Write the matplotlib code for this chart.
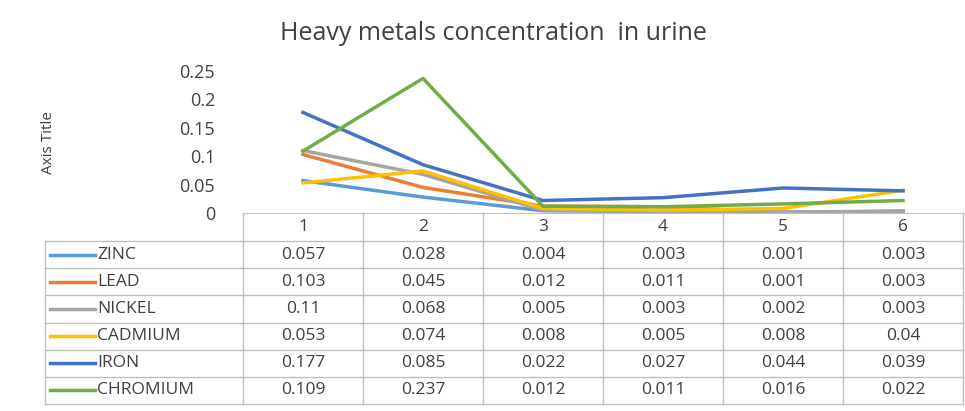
import matplotlib
matplotlib.use("Agg")
import matplotlib.pyplot as plt

categories = [1, 2, 3, 4, 5, 6]
series_names = ["ZINC", "LEAD", "NICKEL", "CADMIUM", "IRON", "CHROMIUM"]
zinc = [0.057, 0.028, 0.004, 0.003, 0.001, 0.003]
lead = [0.103, 0.045, 0.012, 0.011, 0.001, 0.003]
nickel = [0.11, 0.068, 0.005, 0.003, 0.002, 0.003]
cadmium = [0.053, 0.074, 0.008, 0.005, 0.008, 0.04]
iron = [0.177, 0.085, 0.022, 0.027, 0.044, 0.039]
chromium = [0.109, 0.237, 0.012, 0.011, 0.016, 0.022]
yticks = [0, 0.05, 0.1, 0.15, 0.2, 0.25]
colors = ["#5B9BD5", "#ED7D31", "#A5A5A5", "#FFC000", "#4472C4", "#70AD47"]
series = [zinc, lead, nickel, cadmium, iron, chromium]

plt.rcParams['font.family'] = ['Open Sans', 'DejaVu Sans']
W, H = 965, 411
fig = plt.figure(figsize=(W/100, H/100), dpi=100)

L, R, B, T = 243, 963, 213, 71
ax = fig.add_axes([L/W, 1-B/H, (R-L)/W, (B-T)/H])
for s, c in zip(series, colors):
    ax.plot(categories, s, color=c, lw=2.5)
ax.set_xlim(0.5, 6.5)
ax.set_ylim(0, 0.25)
ax.set_yticks(yticks)
ax.set_yticklabels([f"{v:g}" for v in yticks], fontsize=13, color="#404040")
ax.set_xticks([])
for sp in ax.spines.values():
    sp.set_visible(False)
ax.spines['bottom'].set_visible(True)
ax.spines['bottom'].set_color("#BFBFBF")
ax.tick_params(axis='y', length=0, pad=20)
fig.text(48/W, 1-143/H, "Axis Title", rotation=90, ha='center', va='center',
         fontsize=11, color="#404040")
fig.text(493/W, 1-33/H, "Heavy metals concentration  in urine", ha='center',
         va='center', fontsize=18, color="#404040")

# data table
tx = fig.add_axes([0, 0, 1, 1])
tx.set_xlim(0, W); tx.set_ylim(H, 0); tx.axis('off')
lc = "#BFBFBF"
top, hdr, bot = 213, 241, 404
n = len(series_names)
rh = (bot - hdr) / n
colw = (R - L) / len(categories)
TL = 45
tx.plot([TL, TL], [hdr, bot], color=lc, lw=1)
for j in range(len(categories) + 1):
    tx.plot([L + j*colw]*2, [top, bot], color=lc, lw=1)
for i in range(n + 1):
    tx.plot([TL, R], [hdr + i*rh]*2, color=lc, lw=1)
for j, cat in enumerate(categories):
    tx.text(L + (j+0.5)*colw, (top+hdr)/2, str(cat), ha='center', va='center',
            fontsize=12.5, color="#404040")
for i, (name, s, c) in enumerate(zip(series_names, series, colors)):
    yc = hdr + (i+0.5)*rh
    tx.plot([50, 95], [yc, yc], color=c, lw=2.5)
    tx.text(97, yc, name, ha='left', va='center', fontsize=12.5, color="#404040")
    for j, v in enumerate(s):
        tx.text(L + (j+0.5)*colw, yc, f"{v:g}", ha='center', va='center',
                fontsize=12.5, color="#404040")

fig.savefig("out.png", dpi=100)
